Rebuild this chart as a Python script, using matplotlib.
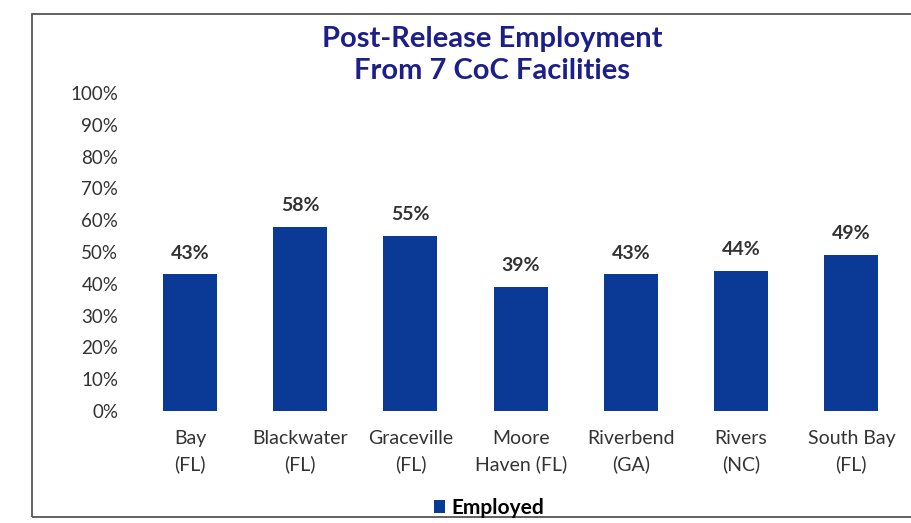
import matplotlib.pyplot as plt
from matplotlib.patches import Rectangle

# chart values
facilities = ['Bay\n(FL)', 'Blackwater\n(FL)', 'Graceville\n(FL)', 'Moore\nHaven (FL)',
              'Riverbend\n(GA)', 'Rivers\n(NC)', 'South Bay\n(FL)']
employed = [0.43, 0.58, 0.55, 0.39, 0.43, 0.44, 0.49]
yticks = [0.0, 0.1, 0.2, 0.3, 0.4, 0.5, 0.6, 0.7, 0.8, 0.9, 1.0]

bar_color = '#0b3a96'
title_color = '#1c1f8a'
plt.rcParams['font.family'] = ['Lato', 'DejaVu Sans']

fig = plt.figure(figsize=(9.11, 5.23), dpi=100)
ax = fig.add_axes([0.148, 0.2141, 0.847, 0.608])

x = range(len(facilities))
bars = ax.bar(x, employed, width=0.49, color=bar_color, label='Employed')

for b, v in zip(bars, employed):
    ax.text(b.get_x() + b.get_width() / 2, v + 0.04, f'{v:.0%}',
            ha='center', va='bottom', fontsize=14, fontweight='bold', color='#333333')

ax.set_xlim(-0.5, len(facilities) - 0.5)
ax.set_ylim(0, 1)
ax.set_yticks(yticks)
ax.set_yticklabels([f'{t:.0%}' for t in yticks], fontsize=13.5, color='#333333')
ax.set_xticks(list(x))
ax.set_xticklabels(facilities, fontsize=14, color='#333333', linespacing=1.55)
ax.tick_params(length=0)
ax.tick_params(axis='y', pad=12)
ax.tick_params(axis='x', pad=14)
for s in ax.spines.values():
    s.set_visible(False)

fig.text(0.54, 0.895, 'Post-Release Employment\nFrom 7 CoC Facilities', ha='center', va='center',
         fontsize=21, fontweight='bold', color=title_color, linespacing=1.3)

leg = fig.legend(handles=[bars], labels=['Employed'], loc='center', bbox_to_anchor=(0.537, 0.029),
                 frameon=False, handlelength=0.55, handleheight=0.55, handletextpad=0.3,
                 prop={'size': 15, 'weight': 'bold'})

# chart border
fig.patches.append(Rectangle((32 / 911, 6 / 523), 1.0, 503 / 523, transform=fig.transFigure,
                             fill=False, edgecolor='#555555', linewidth=1.3))

fig.savefig('out.png', dpi=100)
